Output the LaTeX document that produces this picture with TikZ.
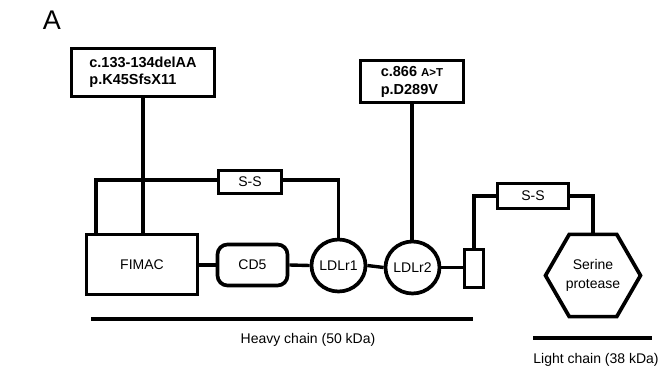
\documentclass[tikz,border=0pt]{standalone}
\usepackage{fontspec}
\setmainfont{Liberation Sans}
\usetikzlibrary{shapes.geometric}
\begin{document}
\begin{tikzpicture}[x=1pt,y=-1pt, line width=3.4pt,
  every node/.style={font=\fontsize{14}{17}\selectfont, inner sep=0pt},
  part/.style={draw, line width=3.7pt, rectangle, align=center},
  mutbox/.style={part, font=\fontsize{14.5}{17}\selectfont\bfseries},
  ldl/.style={draw, line width=3.7pt, ellipse, minimum width=54pt, minimum height=52pt},
  conn/.style={line width=3.4pt},
  chainbar/.style={line width=3.4pt}]
\useasboundingbox (0,0) rectangle (662,374);
\fill[white] (0,0) rectangle (662,374);

\node[font=\fontsize{27}{29}\selectfont] (lblA) at (52,20) {A};

\node[mutbox, minimum width=143pt, minimum height=48pt, align=left] (m1) at (143,72.5) {c.133-134delAA\\p.K45SfsX11};
\node[mutbox, minimum width=103pt, minimum height=42pt, align=left, font=\fontsize{14.5}{18}\selectfont\bfseries] (m2) at (412,81.5) {c.866 {\fontsize{11.5}{12}\selectfont A>T}\\p.D289V};

\node[part, minimum width=63pt, minimum height=23pt] (ss1) at (250,182) {S-S};
\node[part, minimum width=111pt, minimum height=60pt] (fimac) at (142,264.5) {FIMAC};
\node[part, rounded corners=10pt, minimum width=70pt, minimum height=41pt] (cd5) at (252.5,265) {CD5};
\node[ldl] (l1) at (338.5,265.5) {LDLr1};
\node[ldl] (l2) at (412.5,267.5) {LDLr2};
\node[part, minimum width=19pt, minimum height=38pt] (act) at (474,268.5) {};
\node[part, minimum width=71pt, minimum height=25pt] (ss2) at (533,196) {S-S};
\node[draw, line width=3.7pt, regular polygon, regular polygon sides=6, minimum size=95pt, align=center, font=\fontsize{14}{19}\selectfont] (sp) at (593,275.5) {Serine\\protease};

\coordinate (fl) at (96,233);
\draw[conn] (m1.south) -- (m1.south |- fimac.north);
\draw[conn] (fl |- fimac.north) -- (96,180) -- (ss1.west |- 0,180);
\draw[conn] (ss1.east |- 0,180) -| (l1.north);
\draw[conn] (m2.south) -- (m2.south |- l2.north);
\draw[conn] (fimac.east |- cd5.west) -- (cd5.west);
\draw[conn] (cd5.east) -- (l1.west);
\draw[conn] (l1.east) -- (l2.west);
\draw[conn] (l2.east) -- (act.west |- l2.east);
\draw[conn] (act.north) |- (ss2.west);
\draw[conn] (ss2.east) -| (sp.north);

\coordinate (h1) at (91,319);
\coordinate (h2) at (473,319);
\draw[chainbar] (h1) -- (h2);
\node (hl) at (308,340) {Heavy chain (50 kDa)};
\coordinate (c1) at (533,338);
\coordinate (c2) at (652,338);
\draw[chainbar] (c1) -- (c2);
\node (ll) at (596,360) {Light chain (38 kDa)};
\end{tikzpicture}
\end{document}
